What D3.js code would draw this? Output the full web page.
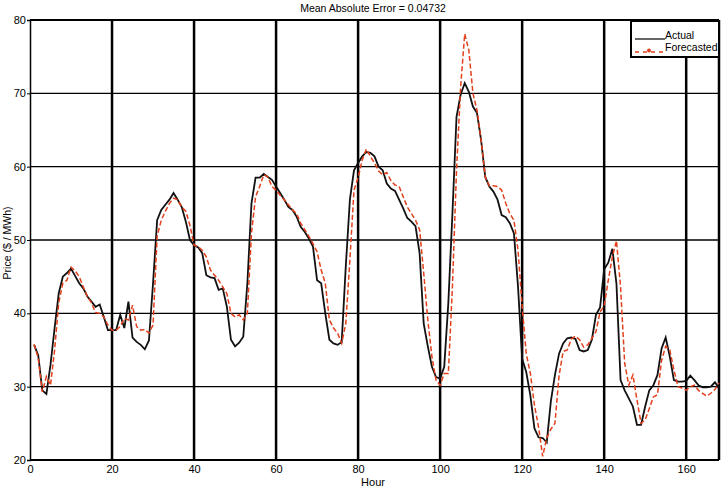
<!DOCTYPE html>
<html>
<head>
<meta charset="utf-8">
<script src="https://cdn.jsdelivr.net/npm/d3@7"></script>
<style>
  body { margin: 0; background: #fff; }
  text { font-family: "Liberation Sans", Arial, sans-serif; fill: #000; }
</style>
</head>
<body>
<div id="chart"></div>
<script>
var hours = d3.range(1, 169);

var actual = [
  35.7, 34.3, 29.5, 29.0, 33.0, 38.0, 42.7, 45.0, 45.5, 46.1,
  45.1, 44.1, 43.4, 42.3, 41.6, 40.9, 41.2, 39.5, 37.7, 37.7,
  37.7, 39.8, 38.0, 41.6, 36.7, 36.1, 35.7, 35.1, 36.3, 44.1,
  52.7, 54.1, 54.8, 55.5, 56.4, 55.5, 54.5, 52.5, 50.0, 49.3,
  49.0, 48.2, 45.2, 44.9, 44.8, 43.2, 43.4, 40.9, 36.4, 35.5,
  36.0, 36.8, 44.1, 55.0, 58.5, 58.5, 59.0, 58.6, 58.2, 57.3,
  56.4, 55.5, 54.5, 54.1, 53.2, 51.8, 51.1, 50.2, 49.1, 44.5,
  44.1, 40.0, 36.4, 35.9, 35.7, 36.1, 46.4, 55.5, 59.5, 60.5,
  61.4, 62.0, 61.9, 61.4, 60.0, 59.5, 57.7, 57.0, 56.7, 55.5,
  54.3, 53.0, 52.5, 51.9, 48.2, 38.6, 35.5, 32.7, 31.3, 31.1,
  32.7, 41.4, 53.6, 66.8, 69.8, 71.4, 70.2, 68.2, 67.3, 63.6,
  58.6, 57.3, 56.6, 55.5, 53.4, 53.1, 52.3, 50.9, 43.6, 33.8,
  32.0, 28.8, 24.3, 23.1, 23.0, 22.4, 28.0, 31.6, 34.5, 35.9,
  36.6, 36.7, 36.5, 35.0, 34.8, 35.0, 36.4, 39.8, 40.8, 46.0,
  46.9, 48.8, 44.0, 30.9, 29.5, 28.4, 27.3, 24.8, 24.8, 27.3,
  29.5, 30.2, 31.6, 35.2, 36.7, 34.1, 30.9, 30.7, 30.7, 30.8,
  31.5, 30.9, 30.2, 29.9, 29.9, 30.0, 30.6, 29.8
];

var forecasted = [
  35.8, 33.9, 29.3, 31.4, 30.2, 35.0, 41.4, 44.1, 44.5, 46.3,
  45.8, 45.0, 43.6, 42.3, 41.4, 40.1, 40.0, 39.5, 38.4, 37.7,
  37.7, 38.2, 39.3, 39.1, 41.1, 38.2, 37.7, 37.8, 37.3, 38.4,
  50.5, 52.7, 53.9, 55.0, 55.7, 55.5, 54.5, 53.9, 52.0, 49.3,
  49.1, 48.6, 47.7, 45.9, 45.2, 44.5, 43.6, 42.7, 40.0, 39.5,
  39.8, 39.1, 40.0, 50.9, 55.9, 57.3, 58.9, 58.6, 57.3, 56.8,
  56.1, 55.5, 54.8, 54.1, 53.6, 52.3, 51.4, 50.5, 49.5, 48.4,
  45.9, 44.1, 39.1, 38.0, 37.3, 35.9, 38.6, 47.3, 56.8, 58.5,
  60.9, 62.4, 61.4, 60.5, 59.4, 58.9, 59.2, 58.1, 57.5, 57.3,
  55.9, 54.5, 53.6, 52.7, 51.4, 45.5, 39.1, 34.1, 30.9, 30.2,
  31.8, 31.8, 43.6, 59.5, 70.9, 78.1, 75.9, 70.0, 67.7, 63.6,
  58.6, 57.4, 57.4, 57.3, 56.8, 55.0, 53.6, 52.7, 48.6, 41.0,
  34.5, 31.8, 27.5, 24.5, 20.5, 23.0, 24.2, 25.0, 31.5, 34.8,
  35.0, 36.5, 36.9, 36.4, 35.4, 35.7, 36.6, 37.5, 40.2, 41.0,
  44.5, 47.7, 49.9, 43.6, 33.2, 30.2, 31.6, 28.2, 25.0, 25.5,
  27.0, 28.6, 28.9, 33.6, 35.5, 35.0, 32.3, 30.0, 29.8, 29.5,
  30.0, 30.2, 29.5, 29.1, 28.7, 29.1, 29.6, 30.5
];

var xTicks = [0, 20, 40, 60, 80, 100, 120, 140, 160];
var yTicks = [20, 30, 40, 50, 60, 70, 80];

var svgWidth = 726;
var svgHeight = 491;
var margin = {top: 20, right: 7, bottom: 31, left: 30};
var width = svgWidth - margin.left - margin.right;
var height = svgHeight - margin.top - margin.bottom;

var svg = d3.select('#chart')
            .append('svg')
            .attr('width', svgWidth)
            .attr('height', svgHeight);

var chartGroup = svg.append('g')
                    .attr('transform', `translate(${margin.left}, ${margin.top})`);

var xScale = d3.scaleLinear().domain([0, 168]).range([0, width]);
var yScale = d3.scaleLinear().domain([20, 80]).range([height, 0]);

// horizontal grid (thin)
chartGroup.selectAll('.hgrid')
          .data(yTicks.slice(1, -1))
          .enter()
          .append('line')
          .attr('x1', 0).attr('x2', width)
          .attr('y1', d => yScale(d)).attr('y2', d => yScale(d))
          .attr('stroke', '#000')
          .attr('stroke-width', 1.3);

// vertical grid (thick)
chartGroup.selectAll('.vgrid')
          .data(xTicks.slice(1))
          .enter()
          .append('line')
          .attr('x1', d => xScale(d)).attr('x2', d => xScale(d))
          .attr('y1', 0).attr('y2', height)
          .attr('stroke', '#000')
          .attr('stroke-width', 2.5);

// frame
chartGroup.append('line').attr('x1', 0).attr('x2', width).attr('y1', 0).attr('y2', 0)
          .attr('stroke', '#000').attr('stroke-width', 2);
chartGroup.append('line').attr('x1', 0).attr('x2', width).attr('y1', height).attr('y2', height)
          .attr('stroke', '#000').attr('stroke-width', 2);
chartGroup.append('line').attr('x1', width).attr('x2', width).attr('y1', 0).attr('y2', height)
          .attr('stroke', '#000').attr('stroke-width', 2.5);

var bottomAxis = d3.axisBottom(xScale).tickValues(xTicks).tickSize(0).tickPadding(5);
var leftAxis = d3.axisLeft(yScale).tickValues(yTicks).tickSize(3).tickPadding(1);

var xAxisG = chartGroup.append('g')
          .attr('transform', `translate(0, ${height})`)
          .call(bottomAxis);
xAxisG.select('.domain').remove();

var yAxisG = chartGroup.append('g')
          .call(leftAxis);
yAxisG.select('.domain').attr('stroke-width', 1.5);

chartGroup.selectAll('.tick text')
          .attr('font-family', '"Liberation Sans", Arial, sans-serif')
          .attr('font-size', '11px')
          .attr('fill', '#000');

var line = d3.line()
             .x((d, i) => xScale(hours[i]))
             .y(d => yScale(d));

chartGroup.append('path')
          .datum(actual)
          .attr('d', line)
          .attr('fill', 'none')
          .attr('stroke', '#111')
          .attr('stroke-width', 1.8);

chartGroup.append('path')
          .datum(forecasted)
          .attr('d', line)
          .attr('fill', 'none')
          .attr('stroke', '#e2401c')
          .attr('stroke-width', 1.5)
          .attr('stroke-dasharray', '5,2.5');

// legend
var legend = svg.append('g');
legend.append('rect')
      .attr('x', 631).attr('y', 21)
      .attr('width', 88).attr('height', 36)
      .attr('fill', '#fff')
      .attr('stroke', '#000')
      .attr('stroke-width', 2);
legend.append('line')
      .attr('x1', 635).attr('x2', 665).attr('y1', 39).attr('y2', 39)
      .attr('stroke', '#000').attr('stroke-width', 1.2);
legend.append('text')
      .attr('x', 665).attr('y', 39)
      .attr('font-size', '10.5px')
      .text('Actual');
legend.append('line')
      .attr('x1', 635).attr('x2', 665).attr('y1', 52).attr('y2', 52)
      .attr('stroke', '#e2401c').attr('stroke-width', 1.3)
      .attr('stroke-dasharray', '4,4');
legend.append('circle')
      .attr('cx', 649).attr('cy', 50.5).attr('r', 2)
      .attr('fill', '#e2401c');
legend.append('text')
      .attr('x', 665).attr('y', 51)
      .attr('font-size', '10.5px')
      .text('Forecasted');

svg.append('text')
   .attr('x', 373).attr('y', 12)
   .attr('text-anchor', 'middle')
   .attr('font-size', '10.5px')
   .text('Mean Absolute Error = 0.04732');

svg.append('text')
   .attr('x', 373).attr('y', 486)
   .attr('text-anchor', 'middle')
   .attr('font-size', '11px')
   .text('Hour');

svg.append('text')
   .attr('transform', 'translate(11, 243) rotate(-90)')
   .attr('text-anchor', 'middle')
   .attr('font-size', '10.5px')
   .text('Price ($ / MWh)');
</script>
</body>
</html>
